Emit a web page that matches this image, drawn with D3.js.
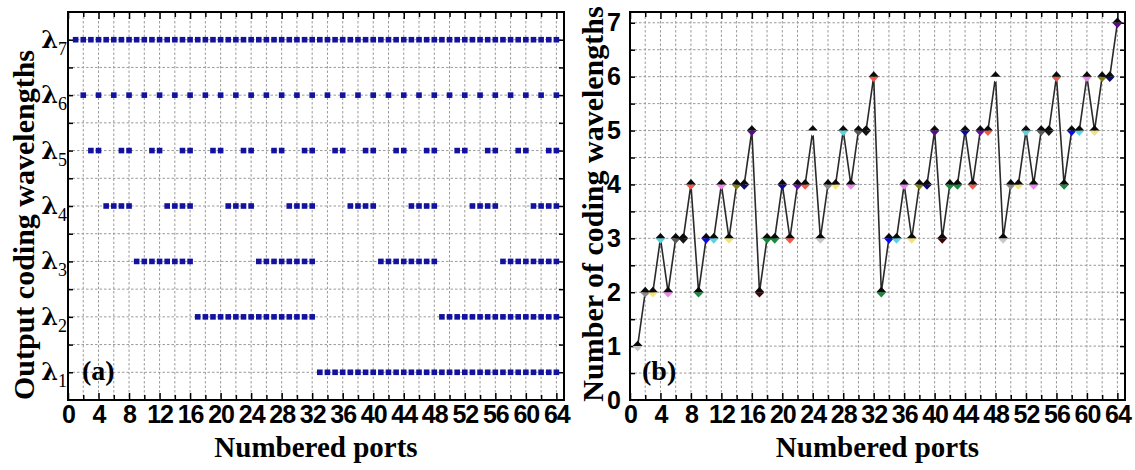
<!DOCTYPE html>
<html><head><meta charset="utf-8">
<script src="https://cdn.jsdelivr.net/npm/d3@7/dist/d3.min.js"></script>
<style>body{margin:0;background:#fff}svg{display:block}</style>
</head><body><svg id="c" width="1135" height="470"></svg>
<script>
// ---------- data ----------
const ports = [1,2,3,4,5,6,7,8,9,10,11,12,13,14,15,16,17,18,19,20,21,22,23,24,25,26,27,28,29,30,31,32,
  33,34,35,36,37,38,39,40,41,42,43,44,45,46,47,48,49,50,51,52,53,54,55,56,57,58,59,60,61,62,63,64];
const wavelengthNames = ["1","2","3","4","5","6","7"];
const lambda1Ports = [33,34,35,36,37,38,39,40,41,42,43,44,45,46,47,48,49,50,51,52,53,54,55,56,57,58,59,60,61,62,63,64];
const lambda2Ports = [17,18,19,20,21,22,23,24,25,26,27,28,29,30,31,32,49,50,51,52,53,54,55,56,57,58,59,60,61,62,63,64];
const lambda3Ports = [9,10,11,12,13,14,15,16,25,26,27,28,29,30,31,32,41,42,43,44,45,46,47,48,57,58,59,60,61,62,63,64];
const lambda4Ports = [5,6,7,8,13,14,15,16,21,22,23,24,29,30,31,32,37,38,39,40,45,46,47,48,53,54,55,56,61,62,63,64];
const lambda5Ports = [3,4,7,8,11,12,15,16,19,20,23,24,27,28,31,32,35,36,39,40,43,44,47,48,51,52,55,56,59,60,63,64];
const lambda6Ports = [2,4,6,8,10,12,14,16,18,20,22,24,26,28,30,32,34,36,38,40,42,44,46,48,50,52,54,56,58,60,62,64];
const lambda7Ports = [1,2,3,4,5,6,7,8,9,10,11,12,13,14,15,16,17,18,19,20,21,22,23,24,25,26,27,28,29,30,31,32,
  33,34,35,36,37,38,39,40,41,42,43,44,45,46,47,48,49,50,51,52,53,54,55,56,57,58,59,60,61,62,63,64];
const wavelengthPorts = [lambda1Ports,lambda2Ports,lambda3Ports,lambda4Ports,lambda5Ports,lambda6Ports,lambda7Ports];

const codingCounts = [1,2,2,3,2,3,3,4,2,3,3,4,3,4,4,5,
  2,3,3,4,3,4,4,5,3,4,4,5,4,5,5,6,
  2,3,3,4,3,4,4,5,3,4,4,5,4,5,5,6,
  3,4,4,5,4,5,5,6,4,5,5,6,5,6,6,7];
const markerColors = [
  "#c8c8c8","#8a8a8a","#f2e27a","#5ad2e0","#ee82ee","#5a5a5a","#151515","#f4584a",
  "#1a8a3c","#0a0af0","#5ad2e0","#ee82ee","#f2e27a","#808010","#0a0a70","#5a0a90",
  "#3a0505","#1a8a3c","#1a8a3c","#0a0aa0","#f4584a","#6a10b0","#f4584a","#ffffff",
  "#c8c8c8","#8a8a8a","#f2e27a","#5ad2e0","#ee82ee","#5a5a5a","#151515","#f4584a",
  "#1a8a3c","#0a0af0","#5ad2e0","#ee82ee","#f2e27a","#808010","#0a0a70","#5a0a90",
  "#3a0505","#1a8a3c","#1a8a3c","#0a0aa0","#f4584a","#6a10b0","#f4584a","#ffffff",
  "#c8c8c8","#8a8a8a","#f2e27a","#5ad2e0","#ee82ee","#5a5a5a","#151515","#f4584a",
  "#1a8a3c","#0a0af0","#5ad2e0","#ee82ee","#f2e27a","#808010","#0a0a70","#5a0a90"];
const portTicks = [0,4,8,12,16,20,24,28,32,36,40,44,48,52,56,60,64];
const countTicks = [0,1,2,3,4,5,6,7];

// ---------- layout ----------
const svg = d3.select("#c");
const serif = "'Liberation Serif','Times New Roman',serif";
const sans = "'Liberation Sans',Arial,sans-serif";
const boxA = {l:68, r:564, t:12, b:400};
const boxB = {l:630, r:1125, t:12, b:400};

function frame(box, x, y, yMinor, yGrid) {
  const g = svg.append("g");
  const xGrid = d3.range(2, 65, 2);
  g.selectAll(".vg").data(xGrid).join("line")
    .attr("x1", d => x(d)).attr("x2", d => x(d)).attr("y1", box.t).attr("y2", box.b)
    .attr("stroke", "#9a9a9a").attr("stroke-width", 1).attr("stroke-dasharray", "2.5,2");
  g.selectAll(".hg").data(yGrid).join("line")
    .attr("x1", box.l).attr("x2", box.r).attr("y1", d => y(d)).attr("y2", d => y(d))
    .attr("stroke", "#9a9a9a").attr("stroke-width", 1).attr("stroke-dasharray", "2.5,2");
  const xMinor = d3.range(0, 65, 2).filter(d => d % 4 !== 0);
  const addAxis = (axis, tr) => {
    const a = g.append("g").attr("transform", tr).call(axis);
    a.select(".domain").remove();
    a.selectAll(".tick line").attr("stroke", "#000").attr("stroke-width", 1.5);
    return a;
  };
  addAxis(d3.axisBottom(x).tickValues(xMinor).tickSize(-5).tickFormat(""), `translate(0,${box.b})`);
  addAxis(d3.axisTop(x).tickValues(xMinor).tickSize(-5).tickFormat(""), `translate(0,${box.t})`);
  addAxis(d3.axisTop(x).tickValues(portTicks).tickSize(-7).tickFormat(""), `translate(0,${box.t})`);
  const xb = addAxis(d3.axisBottom(x).tickValues(portTicks).tickSize(-7).tickSizeOuter(0).tickPadding(5), `translate(0,${box.b})`);
  xb.selectAll("text").attr("font-family", sans).attr("font-weight", "bold").attr("font-size", 25)
    .attr("fill", "#000").attr("letter-spacing", -1);
  addAxis(d3.axisRight(y).tickValues(yMinor).tickSize(-5).tickFormat(""), `translate(${box.r},0)`);
  addAxis(d3.axisLeft(y).tickValues(yMinor).tickSize(-5).tickFormat(""), `translate(${box.l},0)`);
  return g;
}

function border(box) {
  svg.append("rect").attr("x", box.l).attr("y", box.t).attr("width", box.r - box.l).attr("height", box.b - box.t)
    .attr("fill", "none").attr("stroke", "#000").attr("stroke-width", 2);
}

// ---------- panel (a) ----------
const xA = d3.scaleLinear().domain([0, 65]).range([boxA.l, boxA.r]);
const yA = d3.scaleLinear().domain([0.5, 7.5]).range([boxA.b, boxA.t]);
const halfSteps = d3.range(1, 7.01, 0.5);
frame(boxA, xA, yA, halfSteps, halfSteps);

const dotData = [];
wavelengthPorts.forEach((list, i) => list.forEach(p => dotData.push({port: p, level: i + 1})));
svg.append("g").selectAll("rect").data(dotData).join("rect")
  .attr("x", d => xA(d.port) - 2.8).attr("y", d => yA(d.level) - 2.8)
  .attr("width", 5.6).attr("height", 5.6).attr("fill", "#12129e");

const lam = svg.append("g").selectAll("text").data(wavelengthNames).join("text")
  .attr("x", boxA.l - 1).attr("y", (d, i) => yA(i + 1) + 8)
  .attr("text-anchor", "end").attr("fill", "#000");
lam.append("tspan").attr("font-family", "'DejaVu Serif',serif").attr("font-weight", "bold").attr("font-size", 24).text("λ");
lam.append("tspan").attr("font-family", serif).attr("font-size", 18).attr("dy", 7).text(d => d);

svg.append("text").attr("transform", `translate(34,225) rotate(-90)`).attr("text-anchor", "middle")
  .attr("font-family", serif).attr("font-weight", "bold").attr("font-size", 30).text("Output coding wavelengths");
svg.append("text").attr("x", (boxA.l + boxA.r) / 2).attr("y", 457).attr("text-anchor", "middle")
  .attr("font-family", serif).attr("font-weight", "bold").attr("font-size", 29).text("Numbered ports");
svg.append("text").attr("x", 82).attr("y", 380)
  .attr("font-family", serif).attr("font-weight", "bold").attr("font-size", 28).text("(a)");
border(boxA);

// ---------- panel (b) ----------
const xB = d3.scaleLinear().domain([0, 65]).range([boxB.l, boxB.r]);
const yB = d3.scaleLinear().domain([0, 7.2]).range([boxB.b, boxB.t]);
const bHalf = d3.range(0.5, 7.01, 0.5);
frame(boxB, xB, yB, bHalf, bHalf);
const yl = svg.append("g").attr("transform", `translate(${boxB.l},0)`)
  .call(d3.axisLeft(yB).tickValues(countTicks).tickSize(0).tickPadding(9));
yl.select(".domain").remove();
yl.selectAll("text").attr("font-family", sans).attr("font-weight", "bold").attr("font-size", 25).attr("fill", "#000");

const pts = ports.map((p, i) => ({port: p, n: codingCounts[i], c: markerColors[i]}));
svg.append("path").datum(pts)
  .attr("d", d3.line().x(d => xB(d.port)).y(d => yB(d.n)))
  .attr("fill", "none").attr("stroke", "#2a2a2a").attr("stroke-width", 1.6);
const mk = svg.append("g").selectAll("g").data(pts).join("g")
  .attr("transform", d => `translate(${xB(d.port)},${yB(d.n)})`);
mk.append("path").attr("d", "M-5,0L0,5.4L5,0Z").attr("fill", d => d.c);
mk.append("path").attr("d", "M-5,0L0,-5.4L5,0Z").attr("fill", "#0a0a0a");

svg.append("text").attr("transform", `translate(603,204) rotate(-90)`).attr("text-anchor", "middle")
  .attr("font-family", serif).attr("font-weight", "bold").attr("font-size", 30).text("Number of coding wavelengths");
svg.append("text").attr("x", (boxB.l + boxB.r) / 2).attr("y", 457).attr("text-anchor", "middle")
  .attr("font-family", serif).attr("font-weight", "bold").attr("font-size", 29).text("Numbered ports");
svg.append("text").attr("x", 642).attr("y", 380)
  .attr("font-family", serif).attr("font-weight", "bold").attr("font-size", 28).text("(b)");
border(boxB);
</script></body></html>
